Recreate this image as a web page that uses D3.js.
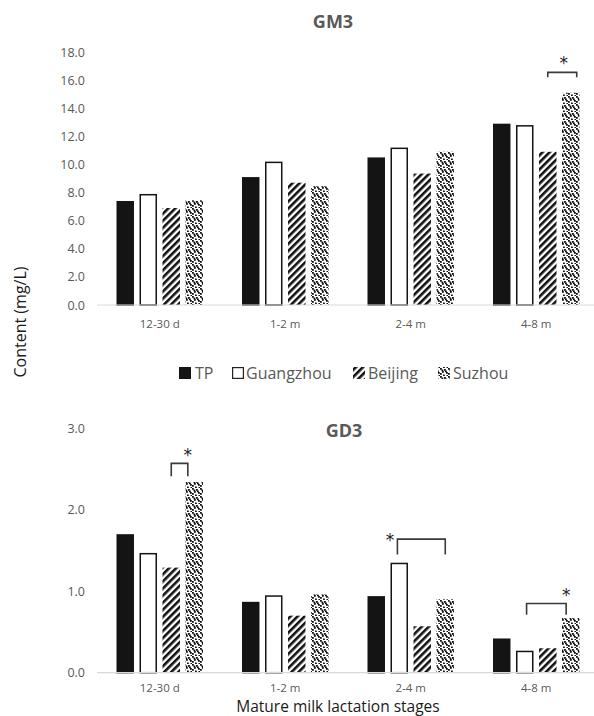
<!DOCTYPE html>
<html><head><meta charset="utf-8">
<script src="https://cdn.jsdelivr.net/npm/d3@7"></script>
<style>body{margin:0;background:#fff}svg{display:block}</style>
</head><body>
<svg id="c" width="594" height="716"></svg>
<script>
const stages = ["12-30 d", "1-2 m", "2-4 m", "4-8 m"];
const series = ["TP", "Guangzhou", "Beijing", "Suzhou"];
const gm3 = {
  "TP":        [7.4, 9.1, 10.5, 12.9],
  "Guangzhou": [7.9, 10.2, 11.2, 12.8],
  "Beijing":   [6.9, 8.7, 9.35, 10.9],
  "Suzhou":    [7.45, 8.45, 10.9, 15.1]
};
const gd3 = {
  "TP":        [1.70, 0.87, 0.94, 0.42],
  "Guangzhou": [1.47, 0.95, 1.35, 0.27],
  "Beijing":   [1.29, 0.70, 0.57, 0.30],
  "Suzhou":    [2.34, 0.96, 0.90, 0.67]
};
const gm3Ticks = [0, 2, 4, 6, 8, 10, 12, 14, 16, 18];
const gd3Ticks = [0, 1, 2, 3];
// significance brackets: stage, from (series units), to (series units), top value, leg end value, star x (series units), star value
const gm3Sig = [{stage: "4-8 m", from: 2.0, to: 3.26, top: 16.55, leg: 16.2, starX: 2.7, starY: 17.4}];
const gd3Sig = [
  {stage: "12-30 d", from: 2.0, to: 2.72, top: 2.57, leg: 2.41, starX: 2.72, starY: 2.71},
  {stage: "2-4 m", from: 0.92, to: 3.0, top: 1.64, leg: 1.45, starX: 0.6, starY: 1.67},
  {stage: "4-8 m", from: 1.08, to: 2.8, top: 0.85, leg: 0.71, starX: 2.8, starY: 0.99}
];

const svg = d3.select("#c");
const defs = svg.append("defs");
const st = defs.append("pattern").attr("id", "stripes").attr("patternUnits", "userSpaceOnUse")
  .attr("width", 5).attr("height", 5).attr("patternTransform", "rotate(45)");
st.append("rect").attr("width", 5).attr("height", 5).attr("fill", "#fff");
st.append("rect").attr("width", 2.6).attr("height", 5).attr("fill", "#111");
const dt = defs.append("pattern").attr("id", "dots").attr("patternUnits", "userSpaceOnUse")
  .attr("width", 8).attr("height", 8);
dt.append("rect").attr("width", 8).attr("height", 8).attr("fill", "#fff");
[[0,0],[4,1],[2,3],[6,4],[0,5],[3,6.5],[6.5,7],[5,2.5],[1.5,1.5]].forEach(([x,y]) =>
  dt.append("rect").attr("x", x).attr("y", y).attr("width", 1.8).attr("height", 1.8).attr("fill", "#111"));

const fills = {"TP": "#141414", "Guangzhou": "#fff", "Beijing": "url(#stripes)", "Suzhou": "url(#dots)"};
const strokes = {"TP": "#141414", "Guangzhou": "#141414", "Beijing": "none", "Suzhou": "none"};

const x0 = d3.scaleBand().domain(stages).range([97, 599]).padding(0);
const x1 = d3.scaleBand().domain(series).range([0, 86.5]).paddingInner(0.24).paddingOuter(0);
const groupLeft = s => x0(s) + x0.bandwidth() / 2 - 43.25;
const unitX = (s, u) => groupLeft(s) + x1.step() * u + x1.bandwidth() / 2;

const FONT = "'Open Sans', 'Noto Sans', sans-serif";

function panel(data, ticks, y, sig, title, titleX, titleY, labelY) {
  const g = svg.append("g");
  const ya = g.append("g").attr("transform", "translate(97,0)")
    .call(d3.axisLeft(y).tickValues(ticks).tickSize(0).tickPadding(12).tickFormat(d3.format(".1f")));
  ya.select(".domain").remove();
  ya.selectAll("text").attr("fill", "#595959").style("font-family", FONT).style("font-size", "12.5px");
  stages.forEach((s, i) => {
    series.forEach(k => {
      const v = data[k][i];
      const sw = strokes[k] === "none" ? 0 : 1.5;
      g.append("rect")
        .attr("x", groupLeft(s) + x1(k) + sw / 2)
        .attr("y", y(v) + sw / 2)
        .attr("width", x1.bandwidth() - sw)
        .attr("height", y(0) - y(v) - sw / 2)
        .attr("fill", fills[k])
        .attr("stroke", strokes[k])
        .attr("stroke-width", sw);
    });
  });
  g.append("line").attr("x1", 97).attr("x2", 594).attr("y1", y(0)).attr("y2", y(0))
    .attr("stroke", "#d9d9d9").attr("stroke-width", 1.2);
  const xa = g.append("g").attr("transform", `translate(0,${labelY})`)
    .call(d3.axisBottom(x0).tickSize(0).tickPadding(0));
  xa.select(".domain").remove();
  xa.selectAll("text").attr("fill", "#595959").style("font-family", FONT).style("font-size", "11.5px")
    .attr("dy", "0").attr("y", 0);
  sig.forEach(b => {
    const xa_ = unitX(b.stage, b.from), xb = unitX(b.stage, b.to);
    g.append("path")
      .attr("d", `M${xa_},${y(b.leg)}V${y(b.top)}H${xb}V${y(b.leg)}`)
      .attr("fill", "none").attr("stroke", "#3a3a3a").attr("stroke-width", 1.6);
    g.append("text").attr("x", unitX(b.stage, b.starX)).attr("y", y(b.starY) + 9)
      .attr("text-anchor", "middle").attr("fill", "#222")
      .style("font-family", "'DejaVu Sans', sans-serif").style("font-size", "17px").text("*");
  });
  g.append("text").attr("x", titleX).attr("y", titleY).attr("text-anchor", "middle")
    .attr("fill", "#595959").style("font-family", FONT).style("font-weight", "bold").style("font-size", "18px")
    .text(title);
}

const yTop = d3.scaleLinear().domain([0, 18]).range([305, 52]);
const yBot = d3.scaleLinear().domain([0, 3]).range([672.7, 428.3]);
panel(gm3, gm3Ticks, yTop, gm3Sig, "GM3", 333, 28, 328);
panel(gd3, gd3Ticks, yBot, gd3Sig, "GD3", 344, 437, 691.5);

const lg = svg.append("g");
const legendItems = [
  {k: "TP", sx: 179, tx: 195},
  {k: "Guangzhou", sx: 232, tx: 246},
  {k: "Beijing", sx: 353, tx: 368},
  {k: "Suzhou", sx: 438, tx: 453}
];
legendItems.forEach(d => {
  const sw = d.k === "Guangzhou" ? 1.2 : 0;
  lg.append("rect").attr("x", d.sx + sw / 2).attr("y", 367 + sw / 2)
    .attr("width", 12 - sw).attr("height", 12 - sw)
    .attr("fill", fills[d.k]).attr("stroke", d.k === "Guangzhou" ? "#222" : "none").attr("stroke-width", sw);
  lg.append("text").attr("x", d.tx).attr("y", 379).attr("fill", "#595959")
    .style("font-family", FONT).style("font-size", "16px").text(d.k);
});

svg.append("text").attr("transform", "translate(26,322) rotate(-90)").attr("text-anchor", "middle")
  .attr("fill", "#1a1a1a").style("font-family", FONT).style("font-size", "16px").text("Content (mg/L)");
svg.append("text").attr("x", 338).attr("y", 712).attr("text-anchor", "middle")
  .attr("fill", "#1a1a1a").style("font-family", FONT).style("font-size", "15.5px").text("Mature milk lactation stages");
</script>
</body></html>
